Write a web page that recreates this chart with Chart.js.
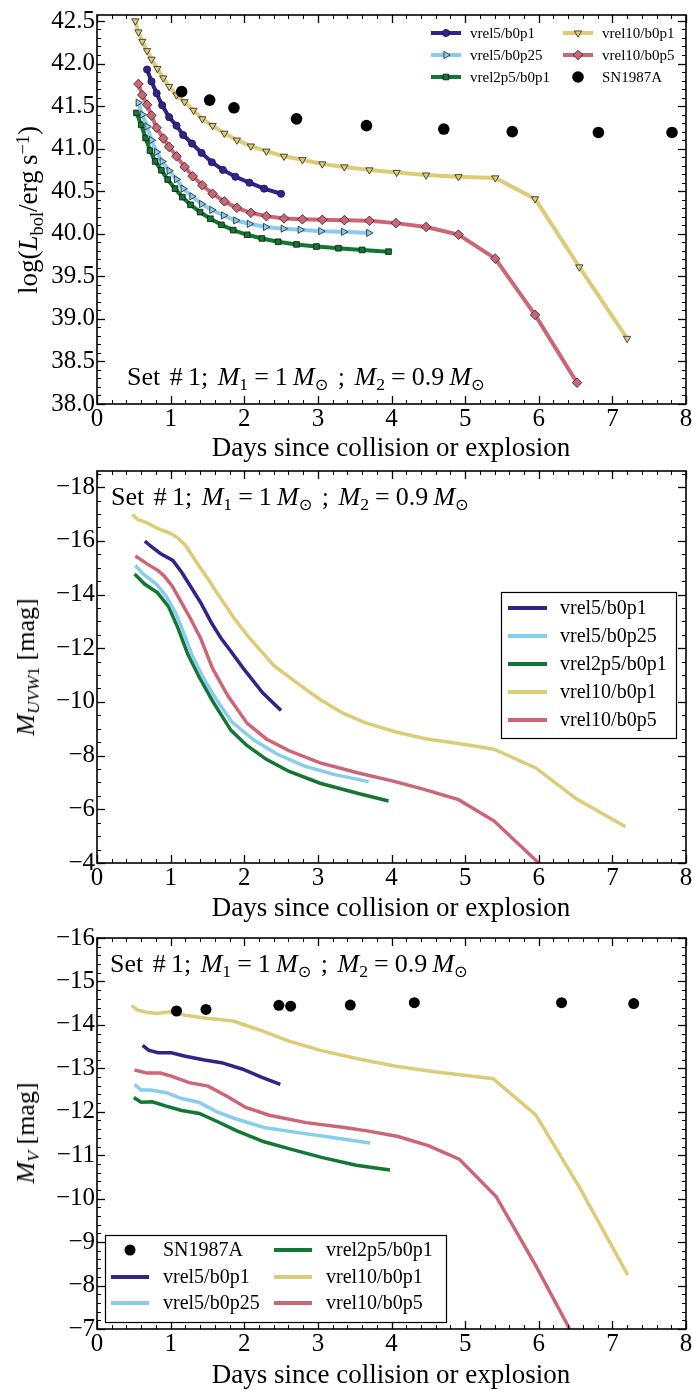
<!DOCTYPE html>
<html><head><meta charset="utf-8">
<script src="https://cdn.jsdelivr.net/npm/chart.js@4/dist/chart.umd.min.js"></script>
<style>
body{margin:0;background:#fff;width:692px;height:1392px;position:relative;overflow:hidden;font-family:"Liberation Serif","DejaVu Serif",serif;color:#000}
canvas{position:absolute;left:0}
.yt{position:absolute;white-space:nowrap;font-size:26px;line-height:30px;transform:translate(-50%,-50%) rotate(-90deg)}
.xt{position:absolute;white-space:nowrap;font-size:27px;line-height:30px;transform:translate(-50%,-50%)}
.ann{position:absolute;white-space:nowrap;font-size:26px;line-height:30px;transform:translateY(-50%);word-spacing:3px}
.ann .eq{margin:0 6px}
sub,sup{font-size:68%;line-height:0;position:relative;vertical-align:baseline}
sub{top:0.3em} sup{top:-0.45em}
.sun{font-family:"DejaVu Sans",sans-serif;font-size:62%}
</style>
</head><body>
<canvas id="c1" width="692" height="460" style="top:0"></canvas>
<canvas id="c2" width="692" height="460" style="top:460px"></canvas>
<canvas id="c3" width="692" height="472" style="top:920px"></canvas>

<div class="yt" style="left:28px;top:210px;font-size:27px">log(<i>L</i><sub>bol</sub>/erg&#8201;s<sup>&minus;1</sup>)</div>
<div class="yt" style="left:26px;top:667px"><i>M</i><sub><i>UVW</i>1</sub> [mag]</div>
<div class="yt" style="left:26px;top:1133px"><i>M</i><sub><i>V</i></sub> [mag]</div>
<div class="xt" style="left:391px;top:447px">Days since collision or explosion</div>
<div class="xt" style="left:391px;top:907px">Days since collision or explosion</div>
<div class="xt" style="left:391px;top:1374px">Days since collision or explosion</div>
<div class="ann" style="left:127px;top:377px">Set #&#8201;1; <i>M</i><sub>1</sub><span class="eq">=</span>1&#8201;<i>M</i><sub class="sun">&#8857;</sub> ; <i>M</i><sub>2</sub><span class="eq">=</span>0.9&#8201;<i>M</i><sub class="sun">&#8857;</sub></div>
<div class="ann" style="left:111px;top:497px">Set #&#8201;1; <i>M</i><sub>1</sub><span class="eq">=</span>1&#8201;<i>M</i><sub class="sun">&#8857;</sub> ; <i>M</i><sub>2</sub><span class="eq">=</span>0.9&#8201;<i>M</i><sub class="sun">&#8857;</sub></div>
<div class="ann" style="left:110px;top:964px">Set #&#8201;1; <i>M</i><sub>1</sub><span class="eq">=</span>1&#8201;<i>M</i><sub class="sun">&#8857;</sub> ; <i>M</i><sub>2</sub><span class="eq">=</span>0.9&#8201;<i>M</i><sub class="sun">&#8857;</sub></div>

<script>
// ---------------- DATA ----------------
const dayTicks = [0,1,2,3,4,5,6,7,8];
const lumTicks = [38.0,38.5,39.0,39.5,40.0,40.5,41.0,41.5,42.0,42.5];
const uvTicks = [-18,-16,-14,-12,-10,-8,-6,-4];
const vTicks = [-16,-15,-14,-13,-12,-11,-10,-9,-8,-7];

const seriesNames = ['vrel5/b0p1','vrel5/b0p25','vrel2p5/b0p1','vrel10/b0p1','vrel10/b0p5','SN1987A'];

// Panel 1: log L_bol
const sn87_L_x = [1.15,1.53,1.86,2.71,3.66,4.71,5.64,6.81,7.81];
const sn87_L_y = [41.67,41.57,41.48,41.35,41.27,41.23,41.20,41.19,41.19];
const v5b01_L_x = [0.68,0.74,0.81,0.885,0.98,1.08,1.17,1.29,1.42,1.56,1.71,1.88,2.07,2.27,2.5];
const v5b01_L_y = [41.93,41.79,41.65,41.51,41.37,41.27,41.16,41.06,40.95,40.84,40.75,40.67,40.60,40.53,40.47];
const v5b025_L_x = [0.56,0.615,0.68,0.74,0.81,0.885,0.98,1.08,1.17,1.29,1.42,1.56,1.72,1.885,2.07,2.29,2.53,2.76,3.04,3.35,3.69];
const v5b025_L_y = [41.54,41.40,41.26,41.10,40.96,40.85,40.74,40.64,40.53,40.44,40.35,40.28,40.215,40.156,40.117,40.08,40.06,40.047,40.03,40.023,40.01];
const v25b01_L_x = [0.536,0.60,0.66,0.72,0.79,0.875,0.96,1.06,1.16,1.27,1.40,1.54,1.69,1.85,2.04,2.24,2.46,2.71,2.98,3.28,3.6,3.96];
const v25b01_L_y = [41.42,41.28,41.125,40.977,40.85,40.746,40.637,40.53,40.43,40.34,40.254,40.176,40.105,40.043,39.988,39.945,39.906,39.875,39.85,39.83,39.81,39.79];
const v10b01_L_x = [0.52,0.5625,0.615,0.68,0.74,0.82,0.90,0.98,1.08,1.19,1.31,1.43,1.57,1.73,1.90,2.09,2.30,2.54,2.79,3.06,3.36,3.70,4.07,4.47,4.91,5.41,5.95,6.55,7.20];
const v10b01_L_y = [42.50,42.37,42.26,42.15,42.05,41.94,41.83,41.73,41.63,41.55,41.45,41.35,41.27,41.18,41.10,41.03,40.97,40.91,40.87,40.82,40.785,40.75,40.72,40.69,40.67,40.656,40.41,39.61,38.77];
const v10b05_L_x = [0.5625,0.615,0.68,0.74,0.81,0.90,0.98,1.08,1.19,1.30,1.43,1.57,1.73,1.90,2.09,2.30,2.54,2.79,3.06,3.36,3.70,4.06,4.47,4.91,5.41,5.95,6.52];
const v10b05_L_y = [41.76,41.63,41.515,41.39,41.245,41.12,41.02,40.91,40.785,40.676,40.57,40.47,40.38,40.305,40.246,40.207,40.18,40.17,40.164,40.16,40.152,40.125,40.08,39.99,39.707,39.047,38.25];

// Panel 2: M_UVW1
const v5b01_U_x = [0.65,0.74,0.86,1.03,1.15,1.28,1.41,1.56,1.69,1.80,1.99,2.25,2.5];
const v5b01_U_y = [-15.99,-15.78,-15.53,-15.27,-14.83,-14.26,-13.69,-12.92,-12.35,-11.95,-11.24,-10.34,-9.68];
const v5b025_U_x = [0.52,0.63,0.81,0.94,1.07,1.18,1.29,1.44,1.62,1.83,2.14,2.45,2.82,3.23,3.69];
const v5b025_U_y = [-15.08,-14.76,-14.38,-13.94,-13.3,-12.55,-11.75,-10.92,-10.09,-9.26,-8.56,-8.05,-7.61,-7.29,-7.03];
const v25b01_U_x = [0.51,0.65,0.82,0.97,1.1,1.23,1.39,1.57,1.82,2.04,2.3,2.61,3.03,3.55,3.96];
const v25b01_U_y = [-14.76,-14.38,-14.07,-13.56,-12.75,-11.8,-10.92,-10.03,-8.94,-8.37,-7.86,-7.41,-6.97,-6.59,-6.31];
const v10b01_U_x = [0.48,0.55,0.68,0.83,0.99,1.09,1.2,1.35,1.51,1.69,1.88,2.05,2.4,2.77,3.03,3.34,3.65,4.06,4.48,5.0,5.39,5.96,6.51,7.18];
const v10b01_U_y = [-16.98,-16.8,-16.67,-16.45,-16.29,-16.12,-15.84,-15.21,-14.57,-13.81,-13.05,-12.45,-11.36,-10.6,-10.09,-9.58,-9.22,-8.88,-8.62,-8.41,-8.24,-7.54,-6.39,-5.35];
const v10b05_U_x = [0.52,0.68,0.83,0.91,1.02,1.15,1.28,1.41,1.57,1.78,2.04,2.30,2.61,3.03,3.55,4.01,4.43,4.91,5.39,6.0];
const v10b05_U_y = [-15.44,-15.14,-14.89,-14.70,-14.32,-13.69,-13.05,-12.35,-11.24,-10.22,-9.2,-8.62,-8.18,-7.73,-7.35,-7.06,-6.75,-6.36,-5.57,-4.0];

// Panel 3: M_V
const sn87_V_x = [1.08,1.48,2.47,2.63,3.44,4.31,6.31,7.29];
const sn87_V_y = [-14.32,-14.355,-14.45,-14.43,-14.455,-14.51,-14.51,-14.49];
const v5b01_V_x = [0.62,0.70,0.83,1.01,1.2,1.46,1.69,1.98,2.24,2.49];
const v5b01_V_y = [-13.53,-13.42,-13.36,-13.36,-13.28,-13.19,-13.13,-12.98,-12.79,-12.63];
const v5b025_V_x = [0.51,0.6,0.73,0.94,1.14,1.38,1.63,1.88,2.27,2.73,3.2,3.71];
const v5b025_V_y = [-12.63,-12.5,-12.5,-12.44,-12.31,-12.22,-12.0,-11.84,-11.64,-11.52,-11.41,-11.28];
const v25b01_V_x = [0.5,0.6,0.75,0.94,1.15,1.39,1.64,1.9,2.27,2.63,3.05,3.52,3.98];
const v25b01_V_y = [-12.33,-12.22,-12.23,-12.13,-12.03,-11.96,-11.77,-11.56,-11.31,-11.14,-10.95,-10.77,-10.66];
const v10b01_V_x = [0.47,0.55,0.68,0.81,0.99,1.2,1.46,1.85,2.18,2.6,3.02,3.54,4.06,4.58,5.1,5.38,5.96,6.54,7.21];
const v10b01_V_y = [-14.45,-14.34,-14.29,-14.26,-14.30,-14.22,-14.16,-14.09,-13.90,-13.63,-13.42,-13.22,-13.05,-12.92,-12.82,-12.76,-11.93,-10.30,-8.24];
const v10b05_V_x = [0.51,0.68,0.86,1.01,1.25,1.51,1.77,2.02,2.34,2.84,3.36,3.67,4.09,4.5,4.92,5.42,5.96,6.42];
const v10b05_V_y = [-12.96,-12.89,-12.89,-12.82,-12.67,-12.59,-12.35,-12.1,-11.92,-11.75,-11.64,-11.56,-11.43,-11.22,-10.91,-10.05,-8.46,-7.0];

// ---------------- STYLE ----------------
const COL = {navy:'#332288', cyan:'#88CCEE', green:'#117733', sand:'#DDCC77', rose:'#CC6677'};
const FONT = 'Liberation Serif';
const pts = (xs, ys) => xs.map((x,i)=>({x, y: ys[i]}));

function lineDS(label, xs, ys, color, width, marker){
  const d = {label, data: pts(xs,ys), showLine:true, borderColor:color, borderWidth:width,
    backgroundColor:color, tension:0, pointRadius:0, pointHoverRadius:0, order:1};
  if (marker){
    d.pointRadius = marker.r; d.pointStyle = marker.style; d.pointRotation = marker.rot||0;
    d.pointBackgroundColor = marker.fill; d.pointBorderColor = marker.edge; d.pointBorderWidth = marker.bw;
  }
  return d;
}
function dotDS(label, xs, ys, r){
  return {label, data: pts(xs,ys), showLine:false, pointStyle:'circle', pointRadius:r, pointHoverRadius:r,
    backgroundColor:'#000', borderColor:'#000', pointBackgroundColor:'#000', pointBorderColor:'#000', pointBorderWidth:0, order:0};
}

const frameTicks = {
  id:'frameTicks',
  afterDatasetsDraw(chart){
    const o = chart.options.plugins.frameTicks;
    const {ctx, chartArea:a, scales:{x,y}} = chart;
    ctx.save();
    ctx.strokeStyle='#000'; ctx.lineWidth=1;
    const seg=(x0,y0,x1,y1)=>{ctx.beginPath();ctx.moveTo(x0,y0);ctx.lineTo(x1,y1);ctx.stroke();};
    const steps=(min,max,step)=>{const out=[];const s=Math.ceil(min/step-1e-9);for(let k=s;k*step<=max+1e-9;k++)out.push(k*step);return out;};
    const xmin=Math.min(x.min,x.max), xmax=Math.max(x.min,x.max);
    const ymin=Math.min(y.min,y.max), ymax=Math.max(y.min,y.max);
    steps(xmin,xmax,o.xMinor).forEach(v=>{const p=Math.round(x.getPixelForValue(v))+0.5;seg(p,a.bottom,p,a.bottom-4);seg(p,a.top,p,a.top+4);});
    steps(ymin,ymax,o.yMinor).forEach(v=>{const p=Math.round(y.getPixelForValue(v))+0.5;seg(a.left,p,a.left+4,p);seg(a.right,p,a.right-4,p);});
    ctx.lineWidth=1.3;
    steps(xmin,xmax,o.xMajor).forEach(v=>{const p=Math.round(x.getPixelForValue(v))+0.5;seg(p,a.bottom,p,a.bottom-8);seg(p,a.top,p,a.top+8);});
    steps(ymin,ymax,o.yMajor).forEach(v=>{const p=Math.round(y.getPixelForValue(v))+0.5;seg(a.left,p,a.left+8,p);seg(a.right,p,a.right-8,p);});
    ctx.lineWidth=1.6;
    ctx.strokeRect(a.left,a.top,a.right-a.left,a.bottom-a.top);
    ctx.restore();
  }
};

const customLegend = {
  id:'customLegend',
  afterDraw(chart){
    const o = chart.options.plugins.customLegend;
    if(!o) return;
    const ctx = chart.ctx;
    ctx.save();
    if(o.box){
      ctx.fillStyle='#fff'; ctx.fillRect(o.box[0],o.box[1],o.box[2],o.box[3]);
      ctx.strokeStyle='#000'; ctx.lineWidth=1.2; ctx.strokeRect(o.box[0]+0.5,o.box[1]+0.5,o.box[2],o.box[3]);
    }
    o.items.forEach(it=>{
      const ds = chart.data.datasets[it.ds];
      if(ds.showLine){
        ctx.strokeStyle=ds.borderColor; ctx.lineWidth=o.lw; ctx.lineCap='butt';
        ctx.beginPath(); ctx.moveTo(it.x, it.y); ctx.lineTo(it.x+o.len, it.y); ctx.stroke();
      }
      const r = ds.pointRadius;
      if(r>0 && (o.markers || !ds.showLine)){
        ctx.fillStyle = ds.pointBackgroundColor; ctx.strokeStyle = ds.pointBorderColor;
        ctx.lineWidth = ds.pointBorderWidth||0;
        Chart.helpers.drawPoint(ctx,{pointStyle:ds.pointStyle,rotation:ds.pointRotation||0,radius:r,borderWidth:ds.pointBorderWidth||0}, it.x+o.len/2, it.y);
      }
      ctx.fillStyle='#000'; ctx.font = o.fontSize+'px "'+FONT+'"'; ctx.textBaseline='middle'; ctx.textAlign='left';
      ctx.fillText(ds.label, it.x+o.len+o.gap, it.y+1);
    });
    ctx.restore();
  }
};

function makeChart(id, H, top, bottom, yCfg, datasets, ft, legend){
  return new Chart(document.getElementById(id), {
    type:'scatter',
    data:{datasets},
    options:{
      responsive:false, animation:false, events:[], devicePixelRatio:1,
      layout:{padding:{top, right:6, left:0, bottom:0}},
      plugins:{legend:{display:false}, tooltip:{enabled:false}, frameTicks:ft, customLegend:legend},
      scales:{
        x:{type:'linear', min:0, max:8,
          afterBuildTicks:s=>{s.ticks = dayTicks.map(v=>({value:v}));},
          ticks:{font:{family:FONT,size:25}, color:'#000', padding:0, maxRotation:0, autoSkip:false, callback:v=>String(v)},
          grid:{display:false, drawTicks:false}, border:{display:false},
          afterFit:s=>{s.height = H-bottom; s.paddingLeft=0; s.paddingRight=0;}},
        y:{type:'linear', min:yCfg.min, max:yCfg.max, reverse:!!yCfg.reverse,
          afterBuildTicks:s=>{s.ticks = yCfg.ticks.map(v=>({value:v}));},
          ticks:{font:{family:FONT,size:25}, color:'#000', padding:2, autoSkip:false, callback:yCfg.fmt},
          grid:{display:false, drawTicks:false}, border:{display:false},
          afterFit:s=>{s.width = 97; s.paddingTop=0; s.paddingBottom=0;}}
      }
    },
    plugins:[frameTicks, customLegend]
  });
}
const magFmt = v => (v<0?'\u2212':'') + Math.abs(v);

// ---------- Panel 1 ----------
const ds1 = [
  lineDS(seriesNames[0], v5b01_L_x, v5b01_L_y, COL.navy, 4, {style:'circle', r:3.6, fill:COL.navy, edge:'#1c1450', bw:0.8}),
  lineDS(seriesNames[1], v5b025_L_x, v5b025_L_y, COL.cyan, 4, {style:'triangle', rot:90, r:4.2, fill:COL.cyan, edge:'#222', bw:0.8}),
  lineDS(seriesNames[2], v25b01_L_x, v25b01_L_y, COL.green, 4, {style:'rect', r:4, fill:COL.green, edge:'#111', bw:0.8}),
  lineDS(seriesNames[3], v10b01_L_x, v10b01_L_y, COL.sand, 4, {style:'triangle', rot:180, r:4.2, fill:COL.sand, edge:'#222', bw:0.8}),
  lineDS(seriesNames[4], v10b05_L_x, v10b05_L_y, COL.rose, 4, {style:'rectRot', r:4.8, fill:COL.rose, edge:'#222', bw:0.8}),
  dotDS(seriesNames[5], sn87_L_x, sn87_L_y, 5.8)
];
makeChart('c1', 460, 15, 404, {min:38.0, max:42.57, ticks:lumTicks, fmt:v=>v.toFixed(1)}, ds1,
  {xMajor:1, xMinor:0.2, yMajor:0.5, yMinor:0.1},
  {lw:4, len:30, gap:9, fontSize:15, markers:true, items:[
    {ds:0,x:431,y:33},{ds:1,x:431,y:55},{ds:2,x:431,y:77},
    {ds:3,x:563,y:33},{ds:4,x:563,y:55},{ds:5,x:563,y:77}]});

// ---------- Panel 2 ----------
const ds2 = [
  lineDS(seriesNames[0], v5b01_U_x, v5b01_U_y, COL.navy, 3.5),
  lineDS(seriesNames[1], v5b025_U_x, v5b025_U_y, COL.cyan, 3.5),
  lineDS(seriesNames[2], v25b01_U_x, v25b01_U_y, COL.green, 3.5),
  lineDS(seriesNames[3], v10b01_U_x, v10b01_U_y, COL.sand, 3.5),
  lineDS(seriesNames[4], v10b05_U_x, v10b05_U_y, COL.rose, 3.5)
];
makeChart('c2', 460, 11, 403, {min:-18.6, max:-4, reverse:true, ticks:uvTicks, fmt:magFmt}, ds2,
  {xMajor:1, xMinor:0.2, yMajor:2, yMinor:0.5},
  {lw:4, len:39, gap:13, fontSize:20, box:[501,132,175,146], items:[
    {ds:0,x:508,y:148},{ds:1,x:508,y:176},{ds:2,x:508,y:204},{ds:3,x:508,y:232},{ds:4,x:508,y:260}]});

// ---------- Panel 3 ----------
const ds3 = [
  dotDS(seriesNames[5], sn87_V_x, sn87_V_y, 5.5),
  lineDS(seriesNames[0], v5b01_V_x, v5b01_V_y, COL.navy, 3.5),
  lineDS(seriesNames[1], v5b025_V_x, v5b025_V_y, COL.cyan, 3.5),
  lineDS(seriesNames[2], v25b01_V_x, v25b01_V_y, COL.green, 3.5),
  lineDS(seriesNames[3], v10b01_V_x, v10b01_V_y, COL.sand, 3.5),
  lineDS(seriesNames[4], v10b05_V_x, v10b05_V_y, COL.rose, 3.5)
];
makeChart('c3', 472, 18, 409, {min:-16, max:-7, reverse:true, ticks:vTicks, fmt:magFmt}, ds3,
  {xMajor:1, xMinor:0.2, yMajor:1, yMinor:0.2},
  {lw:4, len:38, gap:14, fontSize:20, box:[105,315,341,87], items:[
    {ds:0,x:111,y:330},{ds:1,x:111,y:357},{ds:2,x:111,y:383},
    {ds:3,x:274,y:330},{ds:4,x:274,y:357},{ds:5,x:274,y:383}]});
</script>
</body></html>
